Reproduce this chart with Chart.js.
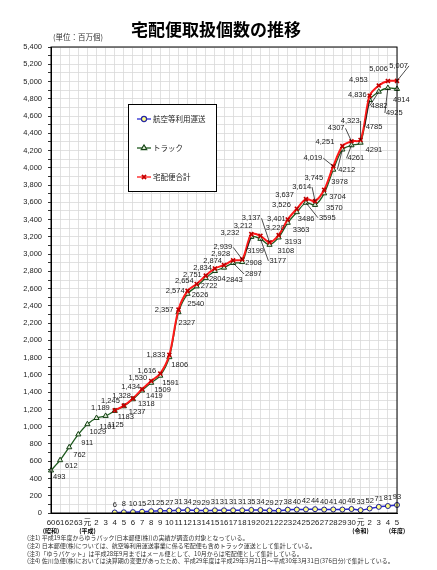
<!DOCTYPE html>
<html>
<head>
<meta charset="utf-8">
<script src="https://cdn.jsdelivr.net/npm/chart.js@4.4.1/dist/chart.umd.min.js"></script>
<style>
  html, body { margin: 0; padding: 0; background: #fff; }
  #wrap { width: 437px; height: 570px; position: relative; }
</style>
</head>
<body>
<div id="wrap"><canvas id="chart"></canvas></div>
<script>
// 年度 (昭和60〜63, 平成元〜30, 令和元〜5)
const categories = ["60","61","62","63","元","2","3","4","5","6","7","8","9","10","11","12","13","14","15","16","17","18","19","20","21","22","23","24","25","26","27","28","29","30","元","2","3","4","5"];
const eraLabels = [
  { at: 0, text: "(昭和)" },
  { at: 4, text: "(平成)" },
  { at: 34, text: "(令和)" },
  { at: 38, text: "(年度)" }
];

// 単位: 百万個
const air = [null,null,null,null,null,null,null,6,8,10,15,21,25,27,31,34,29,29,31,31,31,31,35,34,29,27,38,40,42,44,40,41,40,46,33,52,71,81,93];
const truck = [493,612,762,911,1029,1101,1125,1183,1237,1318,1419,1509,1591,1806,2327,2540,2626,2722,2804,2843,2897,2908,3199,3177,3108,3193,3363,3486,3595,3570,3704,3978,4212,4261,4291,4785,4882,4925,4914];
const total = [null,null,null,null,null,null,null,1189,1245,1328,1434,1530,1616,1833,2357,2574,2654,2751,2834,2874,2928,2939,3232,3212,3137,3220,3401,3526,3637,3614,3745,4019,4251,4307,4323,4836,4953,5006,5007];

const yMax = 5400;

const notes = [
  "(注1) 平成19年度からゆうパック(日本郵便(株))の実績が調査の対象となっている。",
  "(注2) 日本郵便(株)については、航空等利用運送事業に係る宅配便も含めトラック運送として集計している。",
  "(注3)「ゆうパケット」は平成28年9月まではメール便として、10月からは宅配便として集計している。",
  "(注4) 佐川急便(株)においては決算期の変更があったため、平成29年度は平成29年3月21日～平成30年3月31日(376日分)で集計している。"
];

// label placement relative to each point (px), [dx, dy]
const totalLabelPos = [null,null,null,null,null,null,null,
  [-5,-2],[-4,-5],[-2,-2],[-2,-2],[-4,-3],[-4,-3],[-4,0],
  [-5,0],[-3,0],[-3,-3],[-4,-1],[-3,0],[-2,-4],[-3,-6],[-10,-12],
  [-12,-1],[-8,-10],[-9,-24],[6,-7],[-2,-1],[-6,-4],[-12,-4],[-4,-14],[-1,-12],[-11,-8],[-8,-4],[-7,-13],
  [-1,-19],[-3,-1],[-11,-6],[0,-12],[11,-15]];
const truckLabelPos = [[2,6],[5,6],[4,8],[3,9],[2,8],[3,9],[2,9],
  [3,6],[5,6],[5,5],[4,5],[3,7],[2,7],[2,8],
  [0,11],[0,10],[-5,9],[-5,8],[-6,8],[2,12],[12,11],[3,1],
  [-4,14],[9,22],[8,6],[6,4],[5,7],[1,7],[13,15],[11,3],[5,4],[-2,12],[-4,20],[-4,13],
  [5,7],[-4,27],[-8,14],[-2,25],[-4,11]];
const noComma = [33];

const FONT = '"Liberation Sans", "Noto Sans CJK JP", sans-serif';
const JP = '"Noto Sans CJK JP", sans-serif';

const decor = {
  id: "decor",
  afterDraw(chart) {
    const { ctx, chartArea: a, scales: { x } } = chart;
    ctx.save();

    // plot frame
    ctx.strokeStyle = "#000";
    ctx.lineWidth = 1;
    ctx.strokeRect(a.left, a.top, a.right - a.left, a.bottom - a.top);

    // data labels
    ctx.font = "7.5px " + FONT;
    ctx.fillStyle = "#222";
    ctx.textBaseline = "middle";
    ctx.lineWidth = 0.7;
    const drawLabels = (dsIndex, values, pos, align, fmt) => {
      const pts = chart.getDatasetMeta(dsIndex).data;
      values.forEach((v, i) => {
        if (v === null || !pos[i]) return;
        const p = pts[i];
        const [dx, dy] = pos[i];
        const tx = p.x + dx, ty = p.y + dy;
        ctx.textAlign = align;
        ctx.fillText(fmt(v, i), tx, ty);
        if (Math.hypot(dx, dy) > 13) {
          ctx.beginPath();
          ctx.moveTo(align === "right" ? tx + 1 : tx - 1, ty);
          ctx.lineTo(p.x, p.y);
          ctx.stroke();
        }
      });
    };
    drawLabels(0, total, totalLabelPos, "right",
      (v, i) => noComma.includes(i) ? String(v) : v.toLocaleString("en-US"));
    drawLabels(1, truck, truckLabelPos, "left", v => String(v));
    const airPts = chart.getDatasetMeta(2).data;
    ctx.textAlign = "center";
    air.forEach((v, i) => {
      if (v === null) return;
      ctx.fillText(String(v), airPts[i].x, airPts[i].y - 8);
    });

    // era labels under the axis
    ctx.font = "bold 6px " + JP;
    ctx.fillStyle = "#000";
    ctx.textAlign = "center";
    eraLabels.forEach(e => ctx.fillText(e.text, x.getPixelForValue(e.at), 531));

    // title & unit
    ctx.font = "bold 17px " + JP;
    ctx.fillText("宅配便取扱個数の推移", 216, 30);
    ctx.font = "7.5px " + JP;
    ctx.textAlign = "left";
    ctx.fillStyle = "#333";
    ctx.fillText("(単位：百万個)", 53, 37);

    // notes
    ctx.font = "6px " + JP;
    notes.forEach((t, i) => ctx.fillText(t, 27, 538 + i * 7.7));

    // legend box
    const lx = 128, ly = 104, lw = 88, lh = 87;
    ctx.fillStyle = "#fff";
    ctx.fillRect(lx, ly, lw, lh);
    ctx.strokeStyle = "#000";
    ctx.lineWidth = 1;
    ctx.strokeRect(lx + 0.5, ly + 0.5, lw, lh);
    const items = [2, 1, 0];
    items.forEach((di, k) => {
      const ds = chart.data.datasets[di];
      const yy = 119 + k * 29;
      ctx.strokeStyle = ds.borderColor;
      ctx.lineWidth = 1.3;
      ctx.beginPath();
      ctx.moveTo(137, yy);
      ctx.lineTo(151, yy);
      ctx.stroke();
      Chart.helpers.drawPoint(ctx, {
        pointStyle: ds.pointStyle, radius: ds.pointRadius, borderWidth: ds.pointBorderWidth, rotation: 0
      }, 144, yy);
      ctx.fillStyle = ds.pointBackgroundColor;
      ctx.strokeStyle = ds.pointBorderColor;
      ctx.lineWidth = ds.pointBorderWidth;
      ctx.beginPath();
      Chart.helpers.drawPoint(ctx, {
        pointStyle: ds.pointStyle, radius: ds.pointRadius, borderWidth: ds.pointBorderWidth, rotation: 0
      }, 144, yy);
      ctx.fillStyle = "#222";
      ctx.font = "7.5px " + JP;
      ctx.textAlign = "left";
      ctx.fillText(ds.label, 153, yy);
    });

    ctx.restore();
  }
};

new Chart(document.getElementById("chart"), {
  type: "line",
  data: {
    labels: categories,
    datasets: [
      {
        label: "宅配便合計",
        data: total,
        borderColor: "#ff1a1a",
        borderWidth: 2,
        pointStyle: "crossRot",
        pointRadius: 2.8,
        pointBorderWidth: 1.6,
        pointBorderColor: "#c00000",
        pointBackgroundColor: "#c00000",
        tension: 0.3,
        order: 0
      },
      {
        label: "トラック",
        data: truck,
        borderColor: "#1e5a1e",
        borderWidth: 1.3,
        pointStyle: "triangle",
        pointRadius: 3,
        pointBorderWidth: 1,
        pointBorderColor: "#153f15",
        pointBackgroundColor: "#d8e8d0",
        tension: 0.3,
        order: 1
      },
      {
        label: "航空等利用運送",
        data: air,
        borderColor: "#2a2ad0",
        borderWidth: 1.5,
        pointStyle: "circle",
        pointRadius: 2.5,
        pointBorderWidth: 1,
        pointBorderColor: "#1a1a90",
        pointBackgroundColor: "#ffff88",
        tension: 0.3,
        order: 2
      }
    ]
  },
  options: {
    responsive: true,
    maintainAspectRatio: false,
    animation: false,
    layout: {
      padding: { top: 47, right: 40, left: 0, bottom: 0 }
    },
    plugins: {
      legend: { display: false },
      tooltip: { enabled: false }
    },
    scales: {
      x: {
        offset: false,
        afterFit(s) { s.height = 57; },
        grid: { color: "#d9d9d9", lineWidth: 0.8, drawTicks: false },
        border: { color: "#000", width: 1 },
        ticks: {
          autoSkip: false,
          maxRotation: 0,
          padding: 5,
          color: "#222",
          font: { size: 7.8, family: FONT }
        }
      },
      y: {
        min: 0,
        max: yMax,
        afterFit(s) { s.width = 51; },
        grid: { color: "#d9d9d9", lineWidth: 0.8, tickLength: 3, tickColor: "#000" },
        border: { color: "#000", width: 1 },
        ticks: {
          stepSize: 100,
          autoSkip: false,
          padding: 6,
          color: "#222",
          font: { size: 7.5, family: FONT },
          callback: v => v % 200 === 0 ? v.toLocaleString("en-US") : ""
        }
      }
    }
  },
  plugins: [decor]
});
</script>
</body>
</html>
